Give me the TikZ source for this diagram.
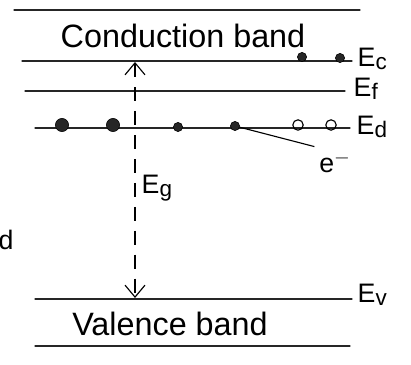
\documentclass[tikz,border=0pt]{standalone}
\usepackage{fontspec}
\setmainfont{Liberation Sans}
\usetikzlibrary{arrows.meta,positioning}

\newcommand{\lev}[1]{E\raisebox{-2pt}{\fontsize{16}{18}\selectfont #1}}

\begin{document}
\begin{tikzpicture}[
    x=0.025cm, y=-0.025cm,
    band/.style={thick, line cap=round, black!85},
    filled/.style={circle, draw, fill=black!85, inner sep=0pt, minimum size=3.3mm},
    small/.style={circle, draw, fill=black!85, inner sep=0pt, minimum size=2.3mm},
    hole/.style={circle, draw, thick, inner sep=0pt, minimum size=2.6mm},
    lbl/.style={font=\fontsize{19}{22}\selectfont, anchor=west, inner sep=1pt},
    big/.style={font=\fontsize{23}{26}\selectfont},
    gap/.style={{Straight Barb[length=3mm,width=5mm]}-{Straight Barb[length=3mm,width=5mm]}, thick, dash pattern=on 10pt off 7pt},
]
\useasboundingbox (0,0) rectangle (411,365);

% ---------- band edges ----------
\draw[band] (14,10) -- (360,10);
\draw[band] (22,61) -- (352,61);
\draw[band] (25,91) -- (345,91);
\draw[band] (35,128) -- (350,128);
\draw[band] (35,299) -- (352,299);
\draw[band] (35,346) -- (350,346);

% ---------- band names ----------
\node[big] (cb) at (183,36) {Conduction band};
\node[big] (vb) at (170,324) {Valence band};

% ---------- level labels ----------
\node[lbl] (Ec) at (356,59) {\lev{c}};
\node[lbl] (Ef) at (352,89) {\lev{f}};
\node[lbl] (Ed) at (355,127) {\lev{d}};
\node[lbl] (Ev) at (356,295) {\lev{v}};
\node[font=\fontsize{19}{22}\selectfont] (dfrag) at (6,240) {d};

% ---------- carriers ----------
\node[small] (c1) at (302,57) {};
\node[small] (c2) at (340,58) {};
\node[filled] (d1) at (62,125) {};
\node[filled] (d2) at (113,125) {};
\node[small] (d3) at (178,127) {};
\node[small] (d4) at (235,126) {};
\node[hole] (h1) at (298,125) {};
\node[hole] (h2) at (331,125) {};

% ---------- electron label ----------
\node[font=\fontsize{19}{22}\selectfont] (elec) at (335,162) {e$^-$};
\draw[thick] (d4) -- (elec.north west);

% ---------- energy gap ----------
\coordinate (gtop) at (135,62);
\coordinate (gbot) at (135,298);
\draw[gap] (gtop) -- (gbot);
\node[lbl] (Eg) at (140,188) {\lev{g}};

\end{tikzpicture}
\end{document}
